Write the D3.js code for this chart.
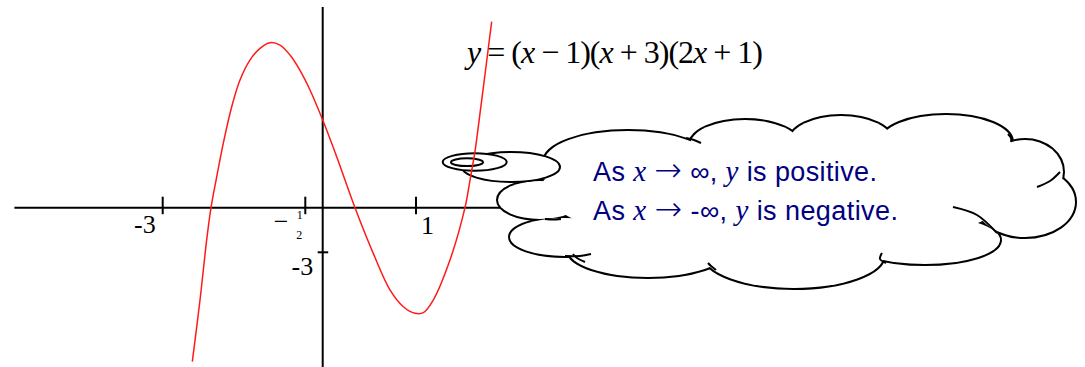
<!DOCTYPE html>
<html>
<head>
<meta charset="utf-8">
<script src="https://cdn.jsdelivr.net/npm/d3@7"></script>
<style>
  body { margin: 0; background: #fff; }
  svg { display: block; }
</style>
</head>
<body>
<svg id="chart" width="1085" height="367"></svg>
<script>
// curve, in the figure's own axis units
const curveX = [-2.481, -2.346, -2.229, -2.153, -2.053, -1.938, -1.790, -1.645, -1.470, -1.294,
  -1.119, -0.944, -0.768, -0.593, -0.365, 0, 0.150, 0.239, 0.346, 0.542, 0.721, 0.864, 0.989,
  1.078, 1.185, 1.364, 1.525, 1.579, 1.632, 1.686, 1.750, 1.786, 1.811];
const curveY = [-10.36, -6.21, -2.17, 0, 2.08, 4.33, 6.79, 8.59, 9.93, 10.72,
  11.10, 10.94, 10.27, 9.24, 7.92, 5.90, 3.43, 1.86, 0, -3.07, -5.53, -6.66, -7.10,
  -7.06, -6.21, -3.52, 0, 1.86, 3.77, 6.35, 9.48, 11.28, 12.51];

const xTicks = [-3, -0.5, 1];
const xTickLabels = ["-3", "-½", "1"];
const yTicks = [-3];
const yTickLabels = ["-3"];
const xAxisExtent = [-5.6, 2.0];
const yAxisExtent = [-11, 13.5];

// [text, kind]: kind 0 = plain, 1 = italic variable, 2 = arrow
const noteLines = [
  [["As ", 0], ["x", 1], [" ", 0], ["\u2192", 2], [" \u221e, ", 0], ["y", 1], [" is positive.", 0]],
  [["As ", 0], ["x", 1], [" ", 0], ["\u2192", 2], [" -\u221e, ", 0], ["y", 1], [" is negative.", 0]]
];

const svg = d3.select("#chart");
const serif = "'Liberation Serif', 'Times New Roman', serif";
const sans = "'Liberation Sans', Arial, sans-serif";

// the hand-drawn axis is not evenly spaced, so the scale is piecewise
const x = d3.scaleLinear().domain([-3, -0.5, 0, 1]).range([162.7, 305.3, 322.7, 416]);
const y = d3.scaleLinear().domain([0, -3]).range([207.7, 252.3]);

// axes
const axes = svg.append("g").attr("stroke", "#000").attr("stroke-width", 2);
axes.append("line")
  .attr("x1", x(xAxisExtent[0])).attr("x2", x(xAxisExtent[1]))
  .attr("y1", y(0)).attr("y2", y(0));
axes.append("line")
  .attr("x1", x(0)).attr("x2", x(0))
  .attr("y1", y(yAxisExtent[1])).attr("y2", y(yAxisExtent[0]));

axes.selectAll("line.xt").data(xTicks).join("line")
  .attr("class", "xt")
  .attr("x1", d => x(d)).attr("x2", d => x(d))
  .attr("y1", y(0) - 11).attr("y2", y(0) + 6.5);
axes.selectAll("line.yt").data(yTicks).join("line")
  .attr("class", "yt")
  .attr("x1", x(0) - 5).attr("x2", x(0) + 5.5)
  .attr("y1", d => y(d)).attr("y2", d => y(d));

const labels = svg.append("g").attr("font-family", serif).attr("fill", "#000");
xTicks.forEach((t, i) => {
  const lab = xTickLabels[i];
  if (lab === "-½") {
    labels.append("text").attr("x", x(t) - 17).attr("y", y(0) + 22)
      .attr("text-anchor", "end").attr("font-size", 26).text("\u2212");
    labels.append("text").attr("x", x(t) - 5.5).attr("y", y(0) + 11)
      .attr("text-anchor", "middle").attr("font-size", 12).text("1");
    labels.append("text").attr("x", x(t) - 6).attr("y", y(0) + 31.5)
      .attr("text-anchor", "middle").attr("font-size", 12).text("2");
  } else if (t < 0) {
    labels.append("text").attr("x", x(t) - 7).attr("y", y(0) + 25.5)
      .attr("text-anchor", "end").attr("font-size", 26).text(lab);
  } else {
    labels.append("text").attr("x", x(t) + 5).attr("y", y(0) + 26)
      .attr("font-size", 26).text(lab);
  }
});
yTicks.forEach((t, i) => {
  labels.append("text").attr("x", x(0) - 9.5).attr("y", y(t) + 22.5)
    .attr("text-anchor", "end").attr("font-size", 26).text(yTickLabels[i]);
});

// cloud callout: union of bumps, outline made by a thick stroke under a white fill
const bumps = [
  [540, 200, 42, 19], [565, 237, 55, 19], [648, 250, 80, 27], [794, 255, 90, 33],
  [925, 240, 75, 24], [1025, 202, 50, 35], [1025, 172, 38, 32], [946, 142, 66, 27],
  [841, 142, 52, 26], [745, 145, 55, 25], [628, 162, 84, 31]
];
const fillers = [[780, 195, 230, 55], [565, 190, 25, 18], [1000, 175, 32, 24]];
const hooks = [
  [[686, 138], [694, 140], [701, 143]],
  [[1008, 134], [1011, 138], [1011, 142]],
  [[1060, 172], [1050, 181], [1037, 187]],
  [[953, 207], [977, 215], [997, 233]],
  [[886, 263], [880, 259], [882, 253]],
  [[716, 270], [711, 266], [708, 263]],
  [[585, 262], [577, 258], [573, 254]],
  [[565, 256], [580, 256], [591, 254]],
  [[545, 219], [553, 219.5], [561, 219]]
];

const cloud = svg.append("g");
cloud.selectAll("ellipse.o").data(bumps).join("ellipse")
  .attr("class", "o")
  .attr("cx", d => d[0]).attr("cy", d => d[1]).attr("rx", d => d[2]).attr("ry", d => d[3])
  .attr("fill", "none").attr("stroke", "#000").attr("stroke-width", 4);
cloud.selectAll("ellipse.f").data(bumps.concat(fillers)).join("ellipse")
  .attr("class", "f")
  .attr("cx", d => d[0]).attr("cy", d => d[1]).attr("rx", d => d[2]).attr("ry", d => d[3])
  .attr("fill", "#fff");
const hookLine = d3.line().curve(d3.curveNatural);
cloud.selectAll("path.h").data(hooks).join("path")
  .attr("class", "h")
  .attr("d", hookLine)
  .attr("fill", "none").attr("stroke", "#000").attr("stroke-width", 2);

// thought bubbles
const bubbles = [[511, 167, 49, 15], [474.7, 162, 32, 8.7], [467, 162.2, 16, 3.9]];
svg.append("g").selectAll("ellipse").data(bubbles).join("ellipse")
  .attr("cx", d => d[0]).attr("cy", d => d[1]).attr("rx", d => d[2]).attr("ry", d => d[3])
  .attr("fill", "#fff").attr("stroke", "#000").attr("stroke-width", 2);

// curve
const pts = curveX.map((v, i) => [v, curveY[i]]);
const line = d3.line().x(d => x(d[0])).y(d => y(d[1])).curve(d3.curveCatmullRom.alpha(0.5));
svg.append("path").datum(pts)
  .attr("d", line)
  .attr("fill", "none").attr("stroke", "#ff1a1a").attr("stroke-width", 1.5);

// equation
const eq = svg.append("text")
  .attr("x", 467).attr("y", 63)
  .attr("font-family", serif).attr("font-size", 32).attr("fill", "#000")
  .attr("textLength", 296).attr("lengthAdjust", "spacing");
[["y", true], [" = (", false], ["x", true], [" \u2212 1)(", false], ["x", true],
 [" + 3)(2", false], ["x", true], [" + 1)", false]].forEach(([s, it]) => {
  eq.append("tspan").attr("font-style", it ? "italic" : "normal").text(s);
});

// note in the cloud
const noteWidths = [284, 305];
noteLines.forEach((parts, i) => {
  const t = svg.append("text")
    .attr("x", 593).attr("y", 181 + i * 39)
    .attr("font-family", sans).attr("font-size", 27).attr("fill", "#000080")
    .attr("textLength", noteWidths[i]).attr("lengthAdjust", "spacing");
  parts.forEach(([s, kind]) => {
    const ts = t.append("tspan")
      .attr("font-family", kind === 1 ? serif : kind === 2 ? "'DejaVu Sans', sans-serif" : sans)
      .attr("font-style", kind === 1 ? "italic" : "normal")
      .attr("font-size", kind === 1 ? 29 : kind === 2 ? 33 : 27)
      .text(s);
    if (kind === 2) ts.attr("font-weight", 200);
  });
});
</script>
</body>
</html>
